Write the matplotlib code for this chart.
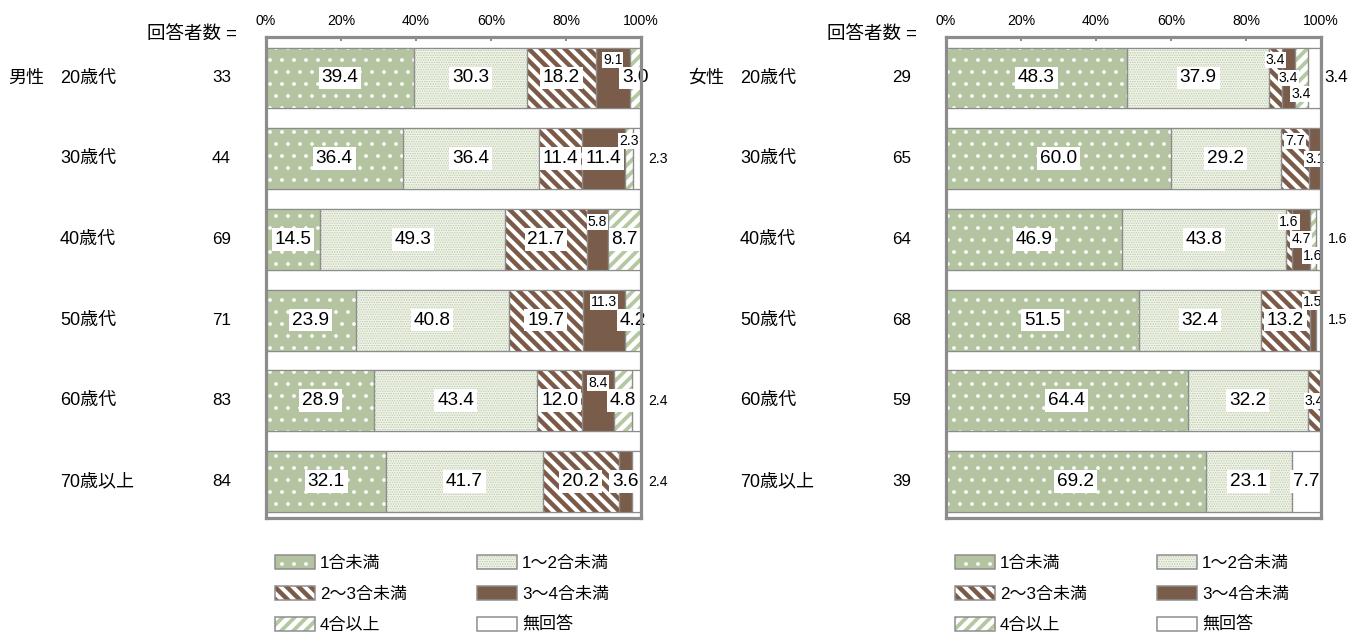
import matplotlib
matplotlib.use('Agg')
import matplotlib.pyplot as plt
from matplotlib.patches import Patch
from matplotlib.legend_handler import HandlerPatch
from matplotlib.transforms import blended_transform_factory

plt.rcParams['font.family'] = ['Liberation Sans', 'Noto Sans CJK JP']

# ---------------- data ----------------
categories = ['1合未満', '1～2合未満', '2～3合未満', '3～4合未満', '4合以上', '無回答']
age_groups = ['20歳代', '30歳代', '40歳代', '50歳代', '60歳代', '70歳以上']
tick_values = [0, 20, 40, 60, 80, 100]
tick_labels = ['0%', '20%', '40%', '60%', '80%', '100%']

male_n = [33, 44, 69, 71, 83, 84]
male_lt1 = [39.4, 36.4, 14.5, 23.9, 28.9, 32.1]
male_1to2 = [30.3, 36.4, 49.3, 40.8, 43.4, 41.7]
male_2to3 = [18.2, 11.4, 21.7, 19.7, 12.0, 20.2]
male_3to4 = [9.1, 11.4, 5.8, 11.3, 8.4, 3.6]
male_4plus = [3.0, 2.3, 8.7, 4.2, 4.8, 0.0]
male_na = [0.0, 2.3, 0.0, 0.0, 2.4, 2.4]

female_n = [29, 65, 64, 68, 59, 39]
female_lt1 = [48.3, 60.0, 46.9, 51.5, 64.4, 69.2]
female_1to2 = [37.9, 29.2, 43.8, 32.4, 32.2, 23.1]
female_2to3 = [3.4, 7.7, 1.6, 13.2, 3.4, 0.0]
female_3to4 = [3.4, 3.1, 4.7, 1.5, 0.0, 0.0]
female_4plus = [3.4, 0.0, 1.6, 0.0, 0.0, 0.0]
female_na = [3.4, 0.0, 1.6, 1.5, 0.0, 7.7]

# ---------------- styles ----------------
GREY = '#8c8c8c'
seg_styles = [
    dict(face='#b4c4a0', hatch='.', hcolor='white', hlw=1.3),
    dict(face='#eff3e9', hatch='.....', hcolor='#bccaa9', hlw=0.9),
    dict(face='white', hatch='\\\\', hcolor='#7b5b48', hlw=4.5),
    dict(face='#7a5c4a', hatch=None, hcolor='#7a5c4a', hlw=1.0),
    dict(face='white', hatch='//', hcolor='#b5c9a0', hlw=3.8),
    dict(face='white', hatch=None, hcolor='white', hlw=1.0),
]

# label placement styles per (row, segment): c=center big, s=small center,
# st=small top, sb=small bottom, so=small outside, bo=big outside, ''=none
male_label_style = [
    ['c', 'c', 'c', 'st', 'c', ''],
    ['c', 'c', 'c', 'c', 'st', 'so'],
    ['c', 'c', 'c', 'st', 'c', ''],
    ['c', 'c', 'c', 'st', 'c', ''],
    ['c', 'c', 'c', 'st', 'c', 'so'],
    ['c', 'c', 'c', 'c', '', 'so'],
]
female_label_style = [
    ['c', 'c', 'st', 's', 'sb', 'bo'],
    ['c', 'c', 'st', 's', '', ''],
    ['c', 'c', 'st', 's', 'sb', 'so'],
    ['c', 'c', 'c', 'st', '', 'so'],
    ['c', 'c', 's', '', '', ''],
    ['c', 'c', '', '', '', 'c'],
]

W, H = 1363, 639
DPI = 72
fig = plt.figure(figsize=(W / DPI, H / DPI), dpi=DPI)

BAR_H = 0.755
BIG = 19
SMALL = 14
LAB = 18


class HatchHandler(HandlerPatch):
    def create_artists(self, legend, orig_handle, xdescent, ydescent, width,
                       height, fontsize, trans):
        arts = super().create_artists(legend, orig_handle, xdescent, ydescent,
                                      width, height, fontsize, trans)
        lw = getattr(orig_handle, '_my_hlw', None)
        for a in arts:
            if lw is not None and hasattr(a, 'set_hatch_linewidth'):
                a.set_hatch_linewidth(lw)
        return arts


def make_bar(ax, y, w, left, height, st, zorder=2):
    with plt.rc_context({'hatch.linewidth': st['hlw']}):
        bars = ax.barh(y, w, left=left, height=height, color=st['face'],
                       edgecolor=st['hcolor'], hatch=st['hatch'], linewidth=0,
                       zorder=zorder)
    for p in bars:
        if hasattr(p, 'set_hatch_linewidth'):
            p.set_hatch_linewidth(st['hlw'])
    ax.barh(y, w, left=left, height=height, fill=False, edgecolor=GREY,
            linewidth=1.2, zorder=zorder + 0.1)


def draw_panel(ax_left_px, series, counts, label_style, sex_label):
    ax = fig.add_axes([ax_left_px / W, 121 / H, 375 / W, 481 / H])
    nrows = len(age_groups)
    # white separator bands
    band_y = [i - 0.5 for i in range(nrows + 1)]
    ax.barh(band_y, [100] * len(band_y), height=1 - BAR_H, color='white',
            edgecolor=GREY, linewidth=1.2, zorder=1)
    lefts = [0.0] * nrows
    for k, vals in enumerate(series):
        st = seg_styles[k]
        ys = [i for i in range(nrows) if vals[i] > 0]
        ws = [vals[i] for i in ys]
        ls = [lefts[i] for i in ys]
        if ys:
            make_bar(ax, ys, ws, ls, BAR_H, st)
        for i in range(nrows):
            v = vals[i]
            style = label_style[i][k]
            if v > 0 and style:
                cx = lefts[i] + v / 2
                cy = i
                fs = BIG
                pad = 0.15
                if style == 's':
                    fs = SMALL
                elif style == 'st':
                    fs, cy = SMALL, i - 0.22
                elif style == 'sb':
                    fs, cy = SMALL, i + 0.2
                elif style == 'so':
                    fs, cx = SMALL, 104.5
                elif style == 'bo':
                    fs, cx = 17, 104.0
                if fs == SMALL:
                    pad = 0.08
                ax.text(cx, cy, f'{v:.1f}', ha='center', va='center',
                        fontsize=fs, zorder=5, clip_on=False,
                        bbox=dict(boxstyle=f'square,pad={pad}', facecolor='white',
                                  edgecolor='none'))
            lefts[i] += v
    ax.set_xlim(0, 100)
    ax.set_ylim(5.452, -0.508)
    ax.xaxis.tick_top()
    ax.set_xticks(tick_values)
    ax.set_xticklabels(tick_labels)
    ax.tick_params(axis='x', direction='in', length=4, width=2, color=GREY,
                   pad=9, labelsize=14)
    ax.set_yticks([])
    for sp in ax.spines.values():
        sp.set_color(GREY)
        sp.set_linewidth(3.2)
        sp.set_zorder(6)
    # row labels
    off = ax_left_px - 266
    tr = blended_transform_factory(fig.transFigure, ax.transData)
    fig.text((8 + off) / W, 0, sex_label, transform=tr, ha='left', va='center',
             fontsize=LAB)
    for i, (g, n) in enumerate(zip(age_groups, counts)):
        fig.text((60 + off) / W, i, g, transform=tr, ha='left', va='center',
                 fontsize=LAB)
        fig.text((231 + off) / W, i, str(n), transform=tr, ha='right',
                 va='center', fontsize=17)
    fig.text((237 + off) / W, 1 - 35 / H, '回答者数 =', ha='right', va='center',
             fontsize=18.5)
    # legend (row-major order -> column-major for ncol=2)
    handles = []
    for st in seg_styles:
        with plt.rc_context({'hatch.linewidth': st['hlw']}):
            hp = Patch(facecolor=st['face'], edgecolor=st['hcolor'],
                       hatch=st['hatch'], linewidth=0)
        hp._my_hlw = st['hlw']
        if hasattr(hp, 'set_hatch_linewidth'):
            hp.set_hatch_linewidth(st['hlw'])
        ep = Patch(fill=False, edgecolor=GREY, linewidth=1.5)
        handles.append((hp, ep))
    order = [0, 2, 4, 1, 3, 5]
    fig.legend([handles[j] for j in order], [categories[j] for j in order],
               ncol=2, loc='upper left',
               bbox_to_anchor=((275 + off) / W, 1 - 555 / H),
               frameon=False, fontsize=17, handlelength=2.35,
               handleheight=0.9, handletextpad=0.3, columnspacing=4.1,
               labelspacing=0.88, borderpad=0, borderaxespad=0,
               handler_map={Patch: HatchHandler()})
    return ax


draw_panel(266, [male_lt1, male_1to2, male_2to3, male_3to4, male_4plus, male_na],
           male_n, male_label_style, '男性')
draw_panel(946, [female_lt1, female_1to2, female_2to3, female_3to4, female_4plus,
                 female_na], female_n, female_label_style, '女性')

fig.savefig('out.png', dpi=DPI, facecolor='white')
